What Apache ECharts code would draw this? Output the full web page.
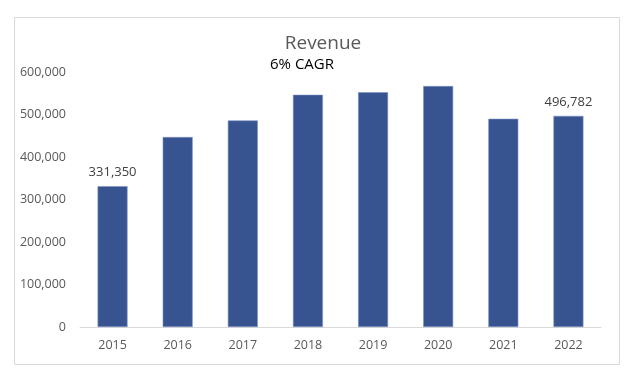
<!DOCTYPE html>
<html>
<head>
<meta charset="utf-8">
<script src="https://cdn.jsdelivr.net/npm/echarts@6/dist/echarts.min.js"></script>
<style>html,body{margin:0;padding:0;background:#fff;}#c{width:640px;height:373px;}</style>
</head>
<body>
<div id="c"></div>
<script>
var categories = ['2015','2016','2017','2018','2019','2020','2021','2022'];
var revenue = [331350, 447000, 486000, 546500, 552500, 567000, 490000, 496782];
var yTicks = [0, 100000, 200000, 300000, 400000, 500000, 600000];
var labeledYears = ['2015','2022'];

var FONT = '"Open Sans", "Noto Sans", sans-serif';
var chart = echarts.init(document.getElementById('c'), null, {renderer:'canvas'});
chart.setOption({
  animation: false,
  backgroundColor: '#fff',
  graphic: [{
    type: 'rect', left: 12, top: 15, shape: {width: 605, height: 347},
    style: {fill: 'none', stroke: '#d9d9d9', lineWidth: 1}, silent: true, z: -1
  }],
  title: [
    {text: 'Revenue', left: 318, top: 29, textAlign: 'center',
     textStyle: {fontFamily: FONT, fontSize: 19, fontWeight: 'normal', color: '#595959'}},
    {text: '6% CAGR', left: 297, top: 52, textAlign: 'center',
     textStyle: {fontFamily: FONT, fontSize: 15, fontWeight: 500, color: '#000'}}
  ],
  grid: {left: 80, right: 39, top: 72, bottom: 46, containLabel: false},
  xAxis: {
    type: 'category', data: categories,
    axisLine: {lineStyle: {color: '#d9d9d9', width: 1}},
    axisTick: {show: false},
    axisLabel: {fontFamily: FONT, fontSize: 12.5, color: '#595959', margin: 12}
  },
  yAxis: {
    type: 'value', min: yTicks[0], max: yTicks[yTicks.length-1], interval: yTicks[1]-yTicks[0],
    splitLine: {show: false}, axisLine: {show: false}, axisTick: {show: false},
    axisLabel: {fontFamily: FONT, fontSize: 12.5, color: '#595959', margin: 14,
      formatter: function(v){ return v.toLocaleString('en-US'); }}
  },
  series: [{
    type: 'bar',
    data: revenue.map(function(v, i){
      var d = {value: v};
      if (labeledYears.indexOf(categories[i]) >= 0) {
        d.label = {show: true, position: 'top', distance: 7, fontFamily: FONT, fontSize: 13, color: '#404040',
          formatter: function(p){ return p.value.toLocaleString('en-US'); }};
      }
      return d;
    }),
    barWidth: 30,
    itemStyle: {color: '#375491', borderColor: '#7f93c4', borderWidth: 0.6},
    label: {show: false}
  }]
});
</script>
</body>
</html>
